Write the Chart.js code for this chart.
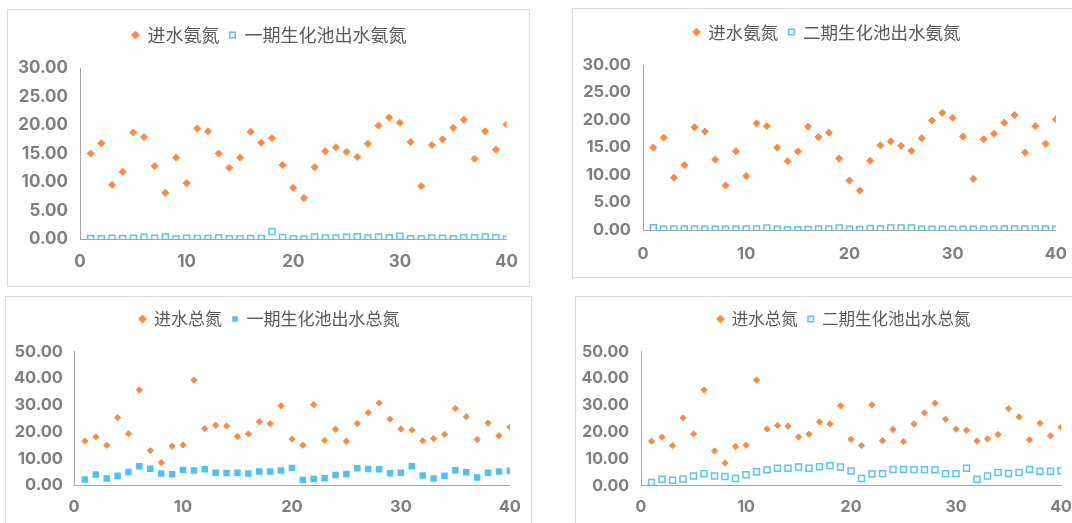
<!DOCTYPE html>
<html>
<head>
<meta charset="utf-8">
<script src="https://cdn.jsdelivr.net/npm/chart.js@4.4.1/dist/chart.umd.min.js"></script>
<style>
  html, body { margin: 0; padding: 0; background: #fff; width: 1072px; height: 523px; overflow: hidden; position: relative; }
  .panel { position: absolute; border: 1px solid #d9d9d9; box-sizing: border-box; background: #fff; overflow: hidden; }
  .panel canvas { position: absolute; left: 0; top: 0; }
</style>
</head>
<body>
<div class="panel" id="p1"><canvas id="c1"></canvas></div>
<div class="panel" id="p2"><canvas id="c2"></canvas></div>
<div class="panel" id="p3"><canvas id="c3"></canvas></div>
<div class="panel" id="p4"><canvas id="c4"></canvas></div>
<script>
// Sampling days (x axis)
const days = [1, 2, 3, 4, 5, 6, 7, 8, 9, 10, 11, 12, 13, 14, 15, 16, 17, 18, 19, 20,
              21, 22, 23, 24, 25, 26, 27, 28, 29, 30, 31, 32, 33, 34, 35, 36, 37, 38, 39, 40];

// Ammonia nitrogen, mg/L
const inflowNH3 = [15.0, 16.8, 9.5, 11.8, 18.7, 17.9, 12.8, 8.1, 14.3, 9.8,
                   19.4, 18.9, 15.0, 12.5, 14.3, 18.8, 16.9, 17.7, 13.0, 9.0,
                   7.2, 12.6, 15.4, 16.1, 15.3, 14.4, 16.7, 19.9, 21.3, 20.4,
                   17.0, 9.3, 16.5, 17.5, 19.5, 20.9, 14.1, 18.9, 15.7, 20.1];
const phase1NH3 = [0.10, 0.05, 0.15, 0.10, 0.15, 0.30, 0.15, 0.35, 0.00, 0.15,
                   0.10, 0.10, 0.20, 0.05, 0.05, 0.10, 0.10, 1.30, 0.25, 0.05,
                   0.00, 0.35, 0.18, 0.18, 0.30, 0.40, 0.18, 0.35, 0.18, 0.47,
                   0.06, 0.06, 0.18, 0.12, 0.06, 0.23, 0.23, 0.35, 0.23, 0.02];
const phase2NH3 = [0.40, 0.15, 0.20, 0.20, 0.20, 0.15, 0.15, 0.15, 0.15, 0.20,
                   0.20, 0.35, 0.15, 0.05, 0.05, 0.10, 0.20, 0.20, 0.35, 0.15,
                   0.10, 0.30, 0.20, 0.35, 0.35, 0.35, 0.15, 0.15, 0.15, 0.15,
                   0.15, 0.15, 0.15, 0.15, 0.20, 0.20, 0.20, 0.20, 0.20, 0.15];

// Total nitrogen, mg/L
const inflowTN = [16.6, 18.1, 15.0, 25.3, 19.3, 35.7, 13.0, 8.5, 14.6, 15.1,
                  39.4, 21.2, 22.5, 22.2, 18.2, 19.2, 23.8, 23.1, 29.8, 17.3,
                  15.0, 30.2, 16.8, 21.0, 16.5, 23.1, 27.2, 30.8, 24.8, 21.1,
                  20.7, 16.7, 17.5, 19.1, 28.8, 25.7, 17.1, 23.3, 18.6, 21.8];
const phase1TN = [2.2, 4.0, 2.5, 3.6, 5.0, 7.1, 6.2, 4.4, 4.1, 5.7,
                  5.5, 6.0, 4.7, 4.6, 4.7, 4.4, 5.2, 5.2, 5.5, 6.5,
                  2.0, 2.4, 2.6, 3.9, 4.2, 6.4, 6.1, 6.0, 4.5, 4.7,
                  7.1, 3.7, 2.5, 3.6, 5.6, 4.9, 2.9, 4.7, 5.2, 5.4];
const phase2TN = [1.25, 2.4, 2.0, 2.5, 3.6, 4.5, 3.6, 3.4, 2.7, 4.1,
                  5.2, 5.9, 6.5, 6.5, 7.0, 6.5, 7.1, 7.5, 7.0, 5.5,
                  2.7, 4.4, 4.5, 6.1, 6.1, 6.0, 6.0, 5.9, 4.5, 4.5,
                  6.5, 2.4, 3.6, 4.9, 4.6, 4.9, 6.1, 5.4, 5.4, 5.6];

// Axis ticks
const xTicks = [0, 10, 20, 30, 40];
const yTicksNH3 = [0, 5, 10, 15, 20, 25, 30];
const yTicksTN = [0, 10, 20, 30, 40, 50];

const ORANGE = '#fd8a3c';
const BLUE = '#56c6f3';
const BLUE_FILL = '#4cc3f2';

const pts = (ys) => days.map((d, i) => ({ x: d, y: ys[i] }));

function inflowSet(label, ys, r) {
  return { label, data: pts(ys), pointStyle: 'rectRot', pointRadius: r, pointHoverRadius: r,
           backgroundColor: ORANGE, borderColor: ORANGE, borderWidth: 1, showLine: false };
}
function hollowSet(label, ys) {
  return { label, data: pts(ys), pointStyle: 'rect', pointRadius: 4.2, pointHoverRadius: 4.2,
           backgroundColor: '#ffffff', borderColor: BLUE, borderWidth: 1.5, showLine: false };
}
function filledSet(label, ys) {
  return { label, data: pts(ys), pointStyle: 'rect', pointRadius: 4.6, pointHoverRadius: 4.6,
           backgroundColor: BLUE_FILL, borderColor: BLUE_FILL, borderWidth: 0, showLine: false };
}

// One framed scatter panel. The canvas starts at the frame's inner left edge and
// is as wide as needed for the legend to sit centred on p.legendCX; an empty
// right-hand spacer axis keeps the plot's right edge at p.plot.r.
function build(p, datasets, yTicks) {
  const el = document.getElementById(p.id);
  Object.assign(el.style, { left: p.box.x + 'px', top: p.box.y + 'px', width: p.box.w + 'px', height: p.box.h + 'px' });
  const ox = p.box.x + 1, oy = p.box.y + 1;
  const ch = p.box.h - 2;
  const cw = Math.round(2 * (p.legendCX - ox));
  const cv = el.querySelector('canvas');
  cv.width = cw; cv.height = ch;
  cv.style.width = cw + 'px'; cv.style.height = ch + 'px';

  const L = p.plot.l - ox, R = p.plot.r - ox, T = p.plot.t - oy, B = p.plot.b - oy;
  const lp = 10;
  const padTop = p.legendY - oy - lp - p.legendFont / 2;
  const legendH = p.legendFont + lp + 10;
  const gap = Math.max(1, T - (padTop + legendH));
  const rightW = cw - R;

  const tickFont = { family: "Inter, 'Open Sans', sans-serif", size: p.tickFont, weight: 'bold' };

  new Chart(cv, {
    type: 'scatter',
    data: { datasets },
    options: {
      responsive: false,
      animation: false,
      events: [],
      layout: { padding: { left: 0, right: 0, top: padTop, bottom: 0 } },
      plugins: {
        legend: {
          position: 'top', weight: 3000,
          labels: {
            usePointStyle: true, boxWidth: 6, boxHeight: 5.5, padding: lp, color: '#595959',
            font: { family: "'Noto Sans CJK SC', 'Noto Sans', sans-serif", size: p.legendFont }
          }
        },
        subtitle: { display: true, text: '', padding: { top: gap - 1, bottom: 0 }, font: { size: 1, lineHeight: 1 } },
        tooltip: { enabled: false }
      },
      scales: {
        x: {
          type: 'linear', min: xTicks[0], max: xTicks[xTicks.length - 1],
          afterBuildTicks: (s) => { s.ticks = xTicks.map(v => ({ value: v })); },
          afterFit: (s) => { s.height = ch - B; },
          grid: { display: false, drawTicks: false },
          border: { display: true, color: '#a6a6a6', width: 1 },
          ticks: { padding: p.xPad, color: '#7f7f7f', font: tickFont, maxRotation: 0,
                   callback: (v) => String(v) }
        },
        y: {
          type: 'linear', position: 'left', min: yTicks[0], max: yTicks[yTicks.length - 1],
          afterBuildTicks: (s) => { s.ticks = yTicks.map(v => ({ value: v })); },
          afterFit: (s) => { s.width = L; },
          grid: { display: false, drawTicks: false },
          border: { display: true, color: '#a6a6a6', width: 1 },
          ticks: { padding: p.yPad, color: '#7f7f7f', font: tickFont,
                   callback: (v) => Number(v).toFixed(2) }
        },
        ySpacer: {
          type: 'linear', position: 'right', display: true,
          afterFit: (s) => { s.width = rightW; },
          grid: { display: false, drawTicks: false },
          border: { display: false },
          ticks: { display: false }
        }
      }
    }
  });
}

build({ id: 'p1', box: { x: 7, y: 9, w: 523, h: 278 }, plot: { l: 80, r: 512, t: 68, b: 239 },
        legendY: 35, legendCX: 269.5, tickFont: 17, legendFont: 18, yPad: 12, xPad: 13 },
      [inflowSet('进水氨氮', inflowNH3, 3.5), hollowSet('一期生化池出水氨氮', phase1NH3)], yTicksNH3);

build({ id: 'p2', box: { x: 572, y: 8, w: 520, h: 270 }, plot: { l: 643, r: 1062, t: 65, b: 230 },
        legendY: 32, legendCX: 827, tickFont: 16.5, legendFont: 17.5, yPad: 12, xPad: 14 },
      [inflowSet('进水氨氮', inflowNH3, 3.5), hollowSet('二期生化池出水氨氮', phase2NH3)], yTicksNH3);

build({ id: 'p3', box: { x: 5, y: 296, w: 527, h: 240 }, plot: { l: 74, r: 515, t: 351.7, b: 485.3 },
        legendY: 319, legendCX: 269.5, tickFont: 16.5, legendFont: 17, yPad: 11, xPad: 12 },
      [inflowSet('进水总氮', inflowTN, 3.1), filledSet('一期生化池出水总氮', phase1TN)], yTicksTN);

build({ id: 'p4', box: { x: 575, y: 296, w: 540, h: 240 }, plot: { l: 641, r: 1061, t: 351.7, b: 485.7 },
        legendY: 319, legendCX: 844, tickFont: 16, legendFont: 16.5, yPad: 12, xPad: 12 },
      [inflowSet('进水总氮', inflowTN, 3.1), hollowSet('二期生化池出水总氮', phase2TN)], yTicksTN);
</script>
</body>
</html>
